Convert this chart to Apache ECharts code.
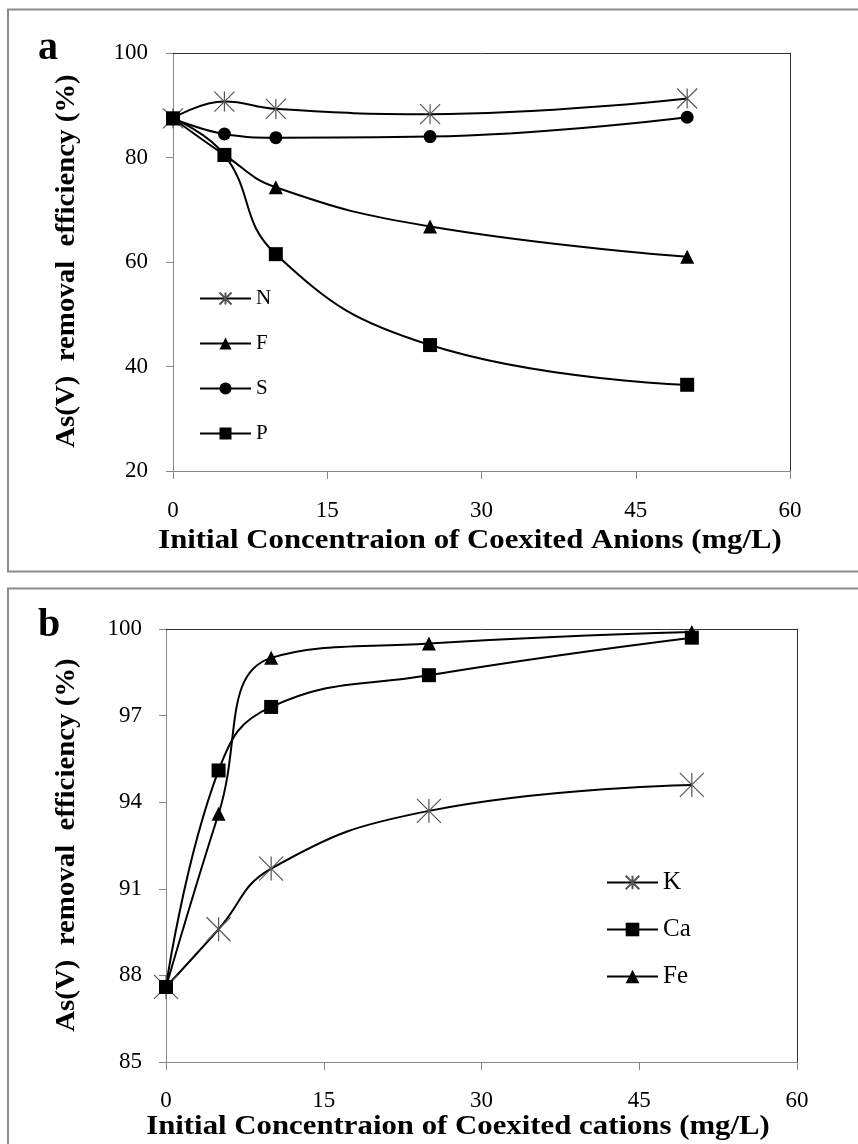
<!DOCTYPE html>
<html><head><meta charset="utf-8">
<script src="https://cdn.jsdelivr.net/npm/echarts@6/dist/echarts.min.js"></script>
<style>html,body{margin:0;padding:0;background:#fff}#c{width:858px;height:1144px}</style>
</head><body><div id="c"></div>
<script>
// ---- data ----
const concA = [0, 5, 10, 25, 50];
const anionN = [87.5, 90.7, 89.3, 88.3, 91.3];
const anionF = [87.5, 80.5, 74.3, 66.8, 61.0];
const anionS = [87.5, 84.5, 83.8, 84.0, 87.7];
const anionP = [87.5, 80.5, 61.5, 44.1, 36.5];
const concB = [0, 5, 10, 25, 50];
const cationK = [87.6, 89.6, 91.7, 93.7, 94.6];
const cationCa = [87.6, 95.1, 97.3, 98.4, 99.7];
const cationFe = [87.6, 93.6, 99.0, 99.5, 99.9];
const xTicks = [0, 15, 30, 45, 60];
const yTicksA = [20, 40, 60, 80, 100];
const yTicksB = [85, 88, 91, 94, 97, 100];
const namesA = ['N', 'F', 'S', 'P'];
const namesB = ['K', 'Ca', 'Fe'];
const xTitleA = 'Initial Concentraion of Coexited Anions (mg/L)';
const xTitleB = 'Initial Concentraion of Coexited cations (mg/L)';
const yTitle = 'As(V)  removal  efficiency (%)';

const FONT = 'Liberation Serif';
const STAR = 'path://M0,0L20,20M20,0L0,20M10,0L10,20';
const pairs = (xs, ys) => xs.map((x, i) => [x, ys[i]]);

function mkSeries(name, xs, ys, sym, size, xi, yi, isStar) {
  return {
    type: 'line', name, data: pairs(xs, ys), xAxisIndex: xi, yAxisIndex: yi,
    smooth: 0.45, symbol: sym, symbolSize: size,
    lineStyle: { color: '#000', width: 2 },
    itemStyle: isStar ? { color: '#555', borderColor: '#555', borderWidth: 1.2 }
                      : { color: '#000', borderColor: '#000', borderWidth: 0 },
    emphasis: { disabled: true }, animation: false
  };
}

const chart = echarts.init(document.getElementById('c'), null, { renderer: 'canvas' });
const axisGray = '#888';
const labelStyle = { color: '#000', fontFamily: FONT, fontSize: 23 };

function xMain(gi, margin) {
  return { type: 'value', gridIndex: gi, min: xTicks[0], max: xTicks[xTicks.length - 1], interval: xTicks[1] - xTicks[0],
    axisLine: { onZero: false, lineStyle: { color: axisGray, width: 1 } },
    axisTick: { length: 8, lineStyle: { color: axisGray } },
    axisLabel: Object.assign({ margin }, labelStyle), splitLine: { show: false } };
}
function xTop(gi) {
  return { type: 'value', gridIndex: gi, position: 'top', min: xTicks[0], max: xTicks[xTicks.length - 1],
    axisLine: { onZero: false, lineStyle: { color: '#333', width: 1 } }, axisTick: { show: false }, axisLabel: { show: false }, splitLine: { show: false } };
}
function yRight(gi, ticks) {
  return { type: 'value', gridIndex: gi, position: 'right', min: ticks[0], max: ticks[ticks.length - 1],
    axisLine: { show: true, onZero: false, lineStyle: { color: '#333', width: 1 } }, axisTick: { show: false }, axisLabel: { show: false }, splitLine: { show: false } };
}
function yMain(gi, ticks, margin) {
  return { type: 'value', gridIndex: gi, min: ticks[0], max: ticks[ticks.length - 1], interval: ticks[1] - ticks[0],
    axisLine: { show: true, onZero: false, lineStyle: { color: axisGray, width: 1 } },
    axisTick: { show: true, length: 7, lineStyle: { color: axisGray }, customValues: ticks },
    axisLabel: Object.assign({ margin, customValues: ticks }, labelStyle), splitLine: { show: false } };
}

const titleFont = 'bold 28px "' + FONT + '"';
const option = {
  backgroundColor: '#fff',
  animation: false,
  grid: [
    { left: 173, right: 68, top: 53, bottom: 1144 - 471 },
    { left: 166, right: 61, top: 629, bottom: 1144 - 1062 }
  ],
  xAxis: [xMain(0, 28), xTop(0), xMain(1, 27), xTop(1)],
  yAxis: [yMain(0, yTicksA, 25), yRight(0, yTicksA), yMain(1, yTicksB, 24), yRight(1, yTicksB)],
  legend: [
    { data: namesA, orient: 'vertical', left: 199, top: 288, padding: 0, itemWidth: 51, itemHeight: 15, itemGap: 24,
      lineStyle: { width: 2, color: '#000' },
      textStyle: { color: '#000', fontFamily: FONT, fontSize: 21 }, selectedMode: false },
    { data: namesB, orient: 'vertical', left: 606, top: 870, padding: 0, itemWidth: 51, itemHeight: 17, itemGap: 22,
      lineStyle: { width: 2, color: '#000' },
      textStyle: { color: '#000', fontFamily: FONT, fontSize: 25 }, selectedMode: false }
  ],
  series: [
    mkSeries(namesA[0], concA, anionN, STAR, 20, 0, 0, true),
    mkSeries(namesA[1], concA, anionF, 'triangle', 14, 0, 0, false),
    mkSeries(namesA[2], concA, anionS, 'circle', 13, 0, 0, false),
    mkSeries(namesA[3], concA, anionP, 'rect', 14, 0, 0, false),
    mkSeries(namesB[0], concB, cationK, STAR, 24, 2, 2, true),
    mkSeries(namesB[1], concB, cationCa, 'rect', 14, 2, 2, false),
    mkSeries(namesB[2], concB, cationFe, 'triangle', 14, 2, 2, false)
  ],
  graphic: [
    { type: 'rect', shape: { x: 8, y: 9.5, width: 900, height: 562 }, style: { fill: 'none', stroke: '#8a8a8a', lineWidth: 2 }, silent: true },
    { type: 'rect', shape: { x: 8, y: 588.5, width: 900, height: 700 }, style: { fill: 'none', stroke: '#8a8a8a', lineWidth: 2 }, silent: true },
    { type: 'text', left: 38, top: 29, style: { text: 'a', font: 'bold 40px "' + FONT + '"', fill: '#000' } },
    { type: 'text', left: 38, top: 606, style: { text: 'b', font: 'bold 40px "' + FONT + '"', fill: '#000' } },
    { type: 'text', x: 470, y: 541, scaleX: 1.1, style: { text: xTitleA, font: titleFont, fill: '#000', align: 'center', verticalAlign: 'middle' } },
    { type: 'text', x: 458, y: 1127, scaleX: 1.1, style: { text: xTitleB, font: titleFont, fill: '#000', align: 'center', verticalAlign: 'middle' } },
    { type: 'text', x: 67, y: 261, rotation: Math.PI / 2, scaleX: 1.03, style: { text: yTitle, font: titleFont, fill: '#000', align: 'center', verticalAlign: 'middle' } },
    { type: 'text', x: 67, y: 845, rotation: Math.PI / 2, scaleX: 1.03, style: { text: yTitle, font: titleFont, fill: '#000', align: 'center', verticalAlign: 'middle' } }
  ]
};
chart.setOption(option);
</script>
</body></html>
